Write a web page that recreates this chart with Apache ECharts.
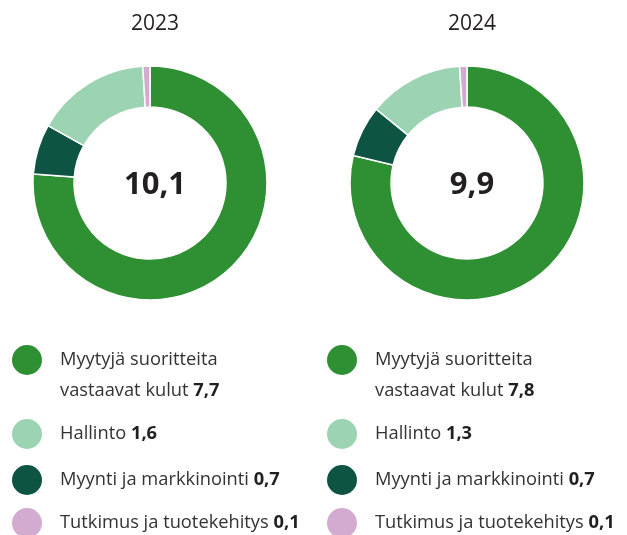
<!DOCTYPE html>
<html>
<head>
<meta charset="utf-8">
<script src="https://cdn.jsdelivr.net/npm/echarts@6/dist/echarts.min.js"></script>
<style>
  html, body { margin: 0; padding: 0; background: #fff; }
  #chart { width: 627px; height: 535px; }
</style>
</head>
<body>
<div id="chart"></div>
<script>
// data
var years = ['2023', '2024'];
var categories = ['Myytyjä suoritteita vastaavat kulut', 'Myynti ja markkinointi', 'Hallinto', 'Tutkimus ja tuotekehitys'];
var values2023 = [7.7, 0.7, 1.6, 0.1];
var values2024 = [7.8, 0.7, 1.3, 0.1];
var colors = ['#2e8f33', '#0d5443', '#9cd3b3', '#d3abd0'];
// legend order (index into categories)
var legendOrder = [0, 2, 1, 3];

(function () {
  var chartDom = document.getElementById('chart');
  var myChart = echarts.init(chartDom);
  var allValues = [values2023, values2024];
  var centersX = [150, 467];
  var font = '"Open Sans", "Noto Sans", sans-serif';

  function fmt(v) {
    return v.toFixed(1).replace('.', ',');
  }

  var series = [];
  var titles = [];
  var graphics = [];

  allValues.forEach(function (vals, k) {
    var total = vals.reduce(function (a, b) { return a + b; }, 0);
    series.push({
      type: 'pie',
      center: [centersX[k], 183],
      radius: [76, 117],
      startAngle: 90,
      clockwise: true,
      silent: true,
      label: { show: false },
      labelLine: { show: false },
      itemStyle: {
        borderColor: '#fff',
        borderWidth: 1.5
      },
      data: vals.map(function (v, i) {
        return { name: categories[i], value: v, itemStyle: { color: colors[i] } };
      })
    });
    // year title
    titles.push({
      text: years[k],
      left: centersX[k],
      top: 9,
      textAlign: 'center',
      textStyle: { fontFamily: font, fontSize: 21, fontWeight: 'normal', color: '#231f20' }
    });
    // total in centre
    titles.push({
      text: fmt(total),
      left: centersX[k],
      top: 165,
      textAlign: 'center',
      textStyle: { fontFamily: font, fontSize: 31, fontWeight: 'bold', color: '#231f20' }
    });

    // legend
    var lx = k === 0 ? 27 : 342;
    var rowsY = [360, 434, 480, 523];
    legendOrder.forEach(function (ci, r) {
      graphics.push({
        type: 'circle',
        shape: { cx: lx, cy: rowsY[r], r: 15 },
        style: { fill: colors[ci] },
        silent: true
      });
      var name = categories[ci];
      if (ci === 0) name = 'Myytyjä suoritteita\nvastaavat kulut';
      graphics.push({
        type: 'text',
        x: lx + 33,
        y: rowsY[r],
        silent: true,
        style: {
          text: name + ' {b|' + fmt(vals[ci]) + '}',
          fontFamily: font,
          fontSize: 18.3,
          fill: '#333333',
          verticalAlign: 'top',
          lineHeight: 31,
          y: -16,
          rich: {
            b: { fontFamily: font, fontSize: 18.3, fontWeight: 'bold', fill: '#231f20', lineHeight: 31 }
          }
        }
      });
    });
  });

  var option = {
    backgroundColor: '#fff',
    animation: false,
    title: titles,
    series: series,
    graphic: graphics
  };

  option && myChart.setOption(option);
})();
</script>
</body>
</html>
